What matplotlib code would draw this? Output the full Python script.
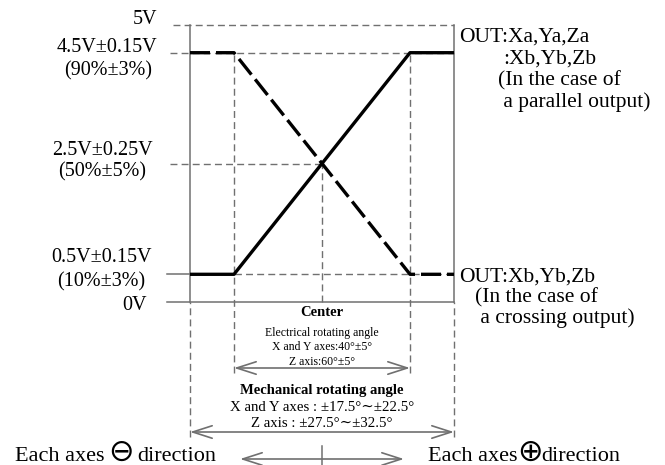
import matplotlib
matplotlib.use("Agg")
import matplotlib.pyplot as plt

# ===================
# DATA
# ===================
angle_pts = [-30, -20, 20, 30]          # deg: mech edge, elec edge, elec edge, mech edge
out_parallel = [0.5, 0.5, 4.5, 4.5]     # V, solid line
out_crossing = [4.5, 4.5, 0.5, 0.5]     # V, dashed line
level_5v, level_hi, level_mid, level_lo, level_0v = 5.0, 4.5, 2.5, 0.5, 0.0

left_labels = ["5V", "4.5V±0.15V", "(90%±3%)", "2.5V±0.25V", "(50%±5%)",
               "0.5V±0.15V", "(10%±3%)", "0V"]
right_top = ["OUT:Xa,Ya,Za", ":Xb,Yb,Zb", "(In the case of", " a parallel output)"]
right_bot = ["OUT:Xb,Yb,Zb", "(In the case of", " a crossing output)"]
elec_text = ["Electrical rotating angle", "X and Y axes:40°±5°", "Z axis:60°±5°"]
mech_text = ["X and Y axes : ±17.5°∼±22.5°", "Z axis : ±27.5°∼±32.5°"]

# ===================
# LAYOUT
# ===================
W, H = 665, 465
X0, XS = 322, 4.4     # pixel of 0 deg, px per deg
Y0, YS = 302, 55.4    # pixel of 0 V, px per volt
GRAY = "#707070"
SERIF = ["Liberation Serif", "DejaVu Serif", "DejaVu Sans"]


def P(x, y):
    return ((x - X0) / XS, (Y0 - y) / YS)


def px_x(x):
    return (x - X0) / XS


def px_y(y):
    return (Y0 - y) / YS


fig = plt.figure(figsize=(W / 100, H / 100), dpi=100)
ax = fig.add_axes([0, 0, 1, 1])
ax.set_xlim(px_x(0), px_x(W))
ax.set_ylim(px_y(H), px_y(0))
ax.axis("off")

xl, xel, xer, xr = angle_pts
dash_g = dict(color=GRAY, lw=1.0, linestyle=(0, (5, 3)))
solid_g = dict(color=GRAY, lw=1.1)

# horizontal reference lines
ax.plot([px_x(173), xr], [level_5v] * 2, **dash_g)
ax.plot([px_x(170), xr], [level_hi] * 2, **dash_g)
ax.plot([px_x(170), 0], [level_mid] * 2, **dash_g)
ax.plot([px_x(167), xl], [level_lo] * 2, **solid_g)
ax.plot([xl, xr], [level_lo] * 2, **dash_g)
ax.plot([px_x(167), xr], [level_0v] * 2, **solid_g)

# vertical reference lines
for x in (xl, xr):
    ax.plot([x, x], [level_0v, level_5v], **solid_g)
    ax.plot([x, x], [px_y(437), level_0v], **dash_g)
for x in (xel, xer):
    ax.plot([x, x], [px_y(373), level_hi], **dash_g)
ax.plot([0, 0], [level_0v, level_mid], **dash_g)

# output curves
ax.plot(angle_pts, out_parallel, color="black", lw=2.4, solid_capstyle="butt")
ax.plot(angle_pts, out_crossing, color="black", lw=2.4, linestyle=(0, (6, 1.8)))

# arrows
def dim_arrow(x1, x2, y):
    ax.annotate("", xy=(x1, y), xytext=(x2, y),
                arrowprops=dict(arrowstyle="<->,head_length=1.4,head_width=0.45",
                                color=GRAY, lw=1.2, shrinkA=0, shrinkB=0))

dim_arrow(xel, xer, px_y(368))
dim_arrow(xl, xr, px_y(432))
dim_arrow(px_x(240), px_x(404), px_y(459))
ax.plot([0, 0], [px_y(446), px_y(465)], **solid_g)

# left labels
fs_l = 14.5
lab_pos = [(157, 20, "right"), (107, 48, "center"), (108, 71, "center"),
           (102, 150, "center"), (102, 172, "center"),
           (102, 258, "center"), (101, 282, "center"), (147, 306, "right")]
for txt, (x, y, ha) in zip(left_labels, lab_pos):
    ax.text(*P(x, y), txt, ha=ha, va="center", fontsize=fs_l, family=SERIF)

# right labels
fs_r = 15.5
for txt, (x, y) in zip(right_top, [(459, 37), (503, 59), (498, 81), (498, 102)]):
    ax.text(*P(x, y), txt, ha="left", va="center", fontsize=fs_r, family=SERIF)
for txt, (x, y) in zip(right_bot, [(459, 277), (475, 298), (475, 318)]):
    ax.text(*P(x, y), txt, ha="left", va="center", fontsize=fs_r, family=SERIF)

# center annotations
ax.text(*P(322, 313), "Center", ha="center", va="center", fontsize=10.5,
        fontweight="bold", family=SERIF)
for txt, y in zip(elec_text, [333, 347, 362]):
    ax.text(*P(322, y), txt, ha="center", va="center", fontsize=8.5, family=SERIF)
ax.text(*P(322, 390), "Mechanical rotating angle", ha="center", va="center",
        fontsize=10.5, fontweight="bold", family=SERIF)
for txt, y in zip(mech_text, [407, 423]):
    ax.text(*P(322, y), txt, ha="center", va="center", fontsize=10.7, family=SERIF)

# direction labels: (text start, symbol centre, "direction" start)
fs_d = 16
for x0, xs, xd, sym in ((15, 121, 137, "⊖"), (428, 530, 541, "⊕")):
    ax.text(*P(x0, 456), "Each axes", ha="left", va="center", fontsize=fs_d,
            family=SERIF)
    ax.text(*P(xs, 452), sym, ha="center", va="center", fontsize=22,
            family=["DejaVu Sans"])
    ax.text(*P(xd, 456), "direction", ha="left", va="center", fontsize=fs_d,
            family=SERIF)

fig.savefig("out.png", dpi=100)
